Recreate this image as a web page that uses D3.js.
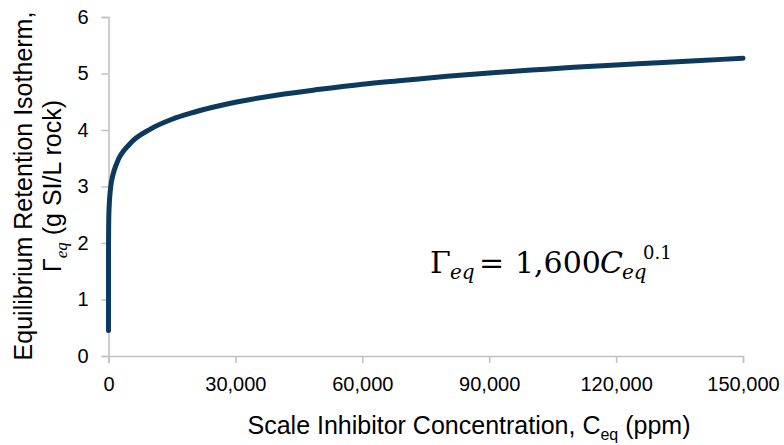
<!DOCTYPE html>
<html>
<head>
<meta charset="utf-8">
<script src="https://cdn.jsdelivr.net/npm/d3@7"></script>
<style>
  html, body { margin: 0; padding: 0; background: #fff; }
  svg { display: block; }
</style>
</head>
<body>
<svg id="chart" width="784" height="445"></svg>
<script>
// ---- data ----
const concentration = [0, 1, 10, 100, 500, 1000, 2000, 5000, 10000, 15000, 20000, 30000, 40000, 50000, 60000, 70000, 80000, 90000, 100000, 110000, 120000, 130000, 140000, 150000];
const retention     = [0.45, 1.6, 2.0, 2.54, 2.98, 3.19, 3.42, 3.75, 4.02, 4.19, 4.31, 4.49, 4.62, 4.72, 4.81, 4.88, 4.95, 5.01, 5.06, 5.11, 5.15, 5.19, 5.23, 5.27];
const xTicks = [0, 30000, 60000, 90000, 120000, 150000];
const yTicks = [0, 1, 2, 3, 4, 5, 6];

const svg = d3.select("#chart");
const x = d3.scaleLinear().domain([0, 150000]).range([108.5, 743]);
const y = d3.scaleLinear().domain([0, 6]).range([356, 17]);
const axisColor = "#c0c0c0";
const sans = "'Liberation Sans', Arial, sans-serif";

// axes
const gx = svg.append("g").attr("transform", `translate(0,${y(0)})`)
  .call(d3.axisBottom(x).tickValues(xTicks).tickSizeOuter(0).tickSize(7).tickPadding(14)
    .tickFormat(d3.format(",")));
const gy = svg.append("g").attr("transform", `translate(${x(0)},0)`)
  .call(d3.axisLeft(y).tickValues(yTicks).tickSizeOuter(0).tickSize(7).tickPadding(13)
    .tickFormat(d3.format("d")));
[gx, gy].forEach(g => {
  g.select(".domain").attr("stroke", axisColor).attr("stroke-width", 1.5);
  g.selectAll(".tick line").attr("stroke", axisColor).attr("stroke-width", 1.5);
  g.selectAll(".tick text").attr("fill", "#000").style("font-family", sans).style("font-size", "20px");
});

// curve
const pts = concentration.map((c, i) => [c, retention[i]]);
svg.append("path").datum(pts)
  .attr("fill", "none").attr("stroke", "#0d3a5c").attr("stroke-width", 5)
  .attr("stroke-linecap", "round").attr("stroke-linejoin", "round")
  .attr("d", d3.line().curve(d3.curveMonotoneX).x(d => x(d[0])).y(d => y(d[1])));

// x title
const xt = svg.append("text").attr("x", 469).attr("y", 434).attr("text-anchor", "middle")
  .style("font-family", sans).style("font-size", "25px").attr("fill", "#000");
xt.append("tspan").text("Scale Inhibitor Concentration, C");
xt.append("tspan").attr("dy", 6).style("font-size", "16px").text("eq");
xt.append("tspan").attr("dy", -6).text(" (ppm)");

// y title
const yt = svg.append("g").attr("transform", "translate(0,186) rotate(-90)");
yt.append("text").attr("x", 0).attr("y", 32).attr("text-anchor", "middle")
  .style("font-family", sans).style("font-size", "25px").attr("fill", "#000")
  .text("Equilibrium Retention Isotherm,");
const yt2 = yt.append("text").attr("x", 0).attr("y", 61).attr("text-anchor", "middle")
  .style("font-family", sans).style("font-size", "25px").attr("fill", "#000");
yt2.append("tspan").text("Γ");
yt2.append("tspan").attr("dy", 6).style("font-family", "'Liberation Serif', serif")
  .style("font-style", "italic").style("font-size", "17px").text("eq");
yt2.append("tspan").attr("dy", -6).text(" (g SI/L rock)");

// equation
const serif = "'DejaVu Serif', serif";
const eq = svg.append("g").attr("fill", "#000").style("font-family", serif);
eq.append("text").attr("x", 430).attr("y", 273).style("font-size", "30px").text("Γ");
eq.append("text").attr("x", 450).attr("y", 279).style("font-size", "20px").style("font-style", "italic").text("eq");
eq.append("text").attr("x", 479).attr("y", 273).style("font-size", "30px").text("=");
eq.append("text").attr("x", 515).attr("y", 273).style("font-size", "30px").text("1,600");
eq.append("text").attr("x", 600).attr("y", 273).style("font-size", "30px").style("font-style", "italic").text("C");
eq.append("text").attr("x", 622).attr("y", 279).style("font-size", "20px").style("font-style", "italic").text("eq");
eq.append("text").attr("x", 643).attr("y", 259).style("font-size", "18px").text("0.1");
</script>
</body>
</html>
